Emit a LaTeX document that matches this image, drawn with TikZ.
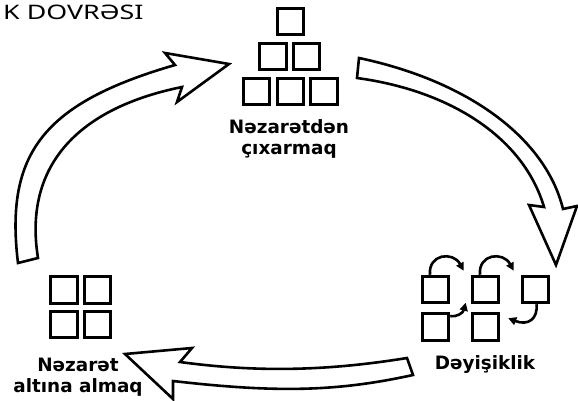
\documentclass[tikz,border=0pt]{standalone}
\usepackage{fontspec}
\setmainfont{Noto Sans}
\newfontfamily\titlefont[FakeStretch=1.34]{Noto Sans}
\newfontfamily\lblfont{DejaVu Sans}
\usetikzlibrary{arrows.meta,calc}
\tikzset{
  sq/.style={draw, line width=3pt, minimum size=26.5pt, inner sep=0pt},
  blockarrow/.style={draw, fill=white, line width=2.6pt, line join=miter},
  smallarrow/.style={draw, line width=2.6pt, -{Triangle[length=8pt,width=8pt]}},
  lbl/.style={font=\lblfont\bfseries\fontsize{18.4}{21}\selectfont, align=center, inner sep=0pt},
  ttl/.style={font=\titlefont\fontsize{20}{22}\selectfont, inner sep=0pt}
}
\begin{document}
\begin{tikzpicture}[x=1pt,y=-1pt]
\useasboundingbox (0,0) rectangle (578,401);
% title
\node[ttl, anchor=base west] (title) at (3,19.5) {K DOVRƏSI};
% block arrows
\draw[blockarrow] (357,78) .. controls (452.5,91) and (524,139) .. (544,207)
  -- (529,205) -- (556,265) -- (577,206) -- (563,209)
  .. controls (545.6,138) and (468,81) .. (359,58) -- cycle;
\draw[blockarrow] (413,375) .. controls (337,391.6) and (277,393) .. (173,381)
  -- (173,399) -- (125,354) -- (192,348) -- (180,362)
  .. controls (257,372.5) and (327,371) .. (407,358) -- cycle;
\draw[blockarrow] (18,263) .. controls (4.6,153) and (44,103) .. (175,65)
  -- (165,53) -- (229,64) -- (177,102) -- (182,87)
  .. controls (74,109) and (23.6,169) .. (38,258) -- cycle;
% top pyramid
\node[sq] (p1) at (290.5,21.5) {};
\node[sq] (p2) at (273,56.5) {};
\node[sq] (p3) at (306.5,56.5) {};
\node[sq] (p4) at (256.5,91.5) {};
\node[sq] (p5) at (290.5,91.5) {};
\node[sq] (p6) at (324,91.5) {};
\node[lbl, anchor=base] (l1) at (289,154) {Nəzarətdən\\çıxarmaq};
% bottom left
\node[sq] (q1) at (64,290) {};
\node[sq] (q2) at (97.5,290) {};
\node[sq] (q3) at (64,324.5) {};
\node[sq] (q4) at (97.5,324.5) {};
\node[lbl, anchor=base] (l2) at (78,392) {Nəzarət\\altına almaq};
% bottom right
\node[sq] (c1) at (435.5,289.5) {};
\node[sq] (c2) at (485.5,289.5) {};
\node[sq] (c3) at (535.5,289.5) {};
\node[sq] (c4) at (435.5,327) {};
\node[sq] (c5) at (485.5,327) {};
\node[lbl, anchor=base] (l3) at (485,369.5) {Dəyişiklik};
\draw[smallarrow] ([xshift=-5.5pt]c1.north) .. controls (428,254) and (453,251) .. ([xshift=-7pt,yshift=4pt]c2.north west);
\draw[smallarrow] ([xshift=-5.5pt]c2.north) .. controls (478,254) and (503,251) .. ([xshift=-7pt,yshift=4pt]c3.north west);
\draw[smallarrow] ([yshift=-4pt]c4.north east) .. controls (457,317) and (463,313) .. ([xshift=-5pt,yshift=1.5pt]c2.south west);
\draw[smallarrow] ([xshift=1pt]c3.south) .. controls (538,319) and (528,326) .. ([xshift=8pt,yshift=-6pt]c5.north east);
\end{tikzpicture}
\end{document}
